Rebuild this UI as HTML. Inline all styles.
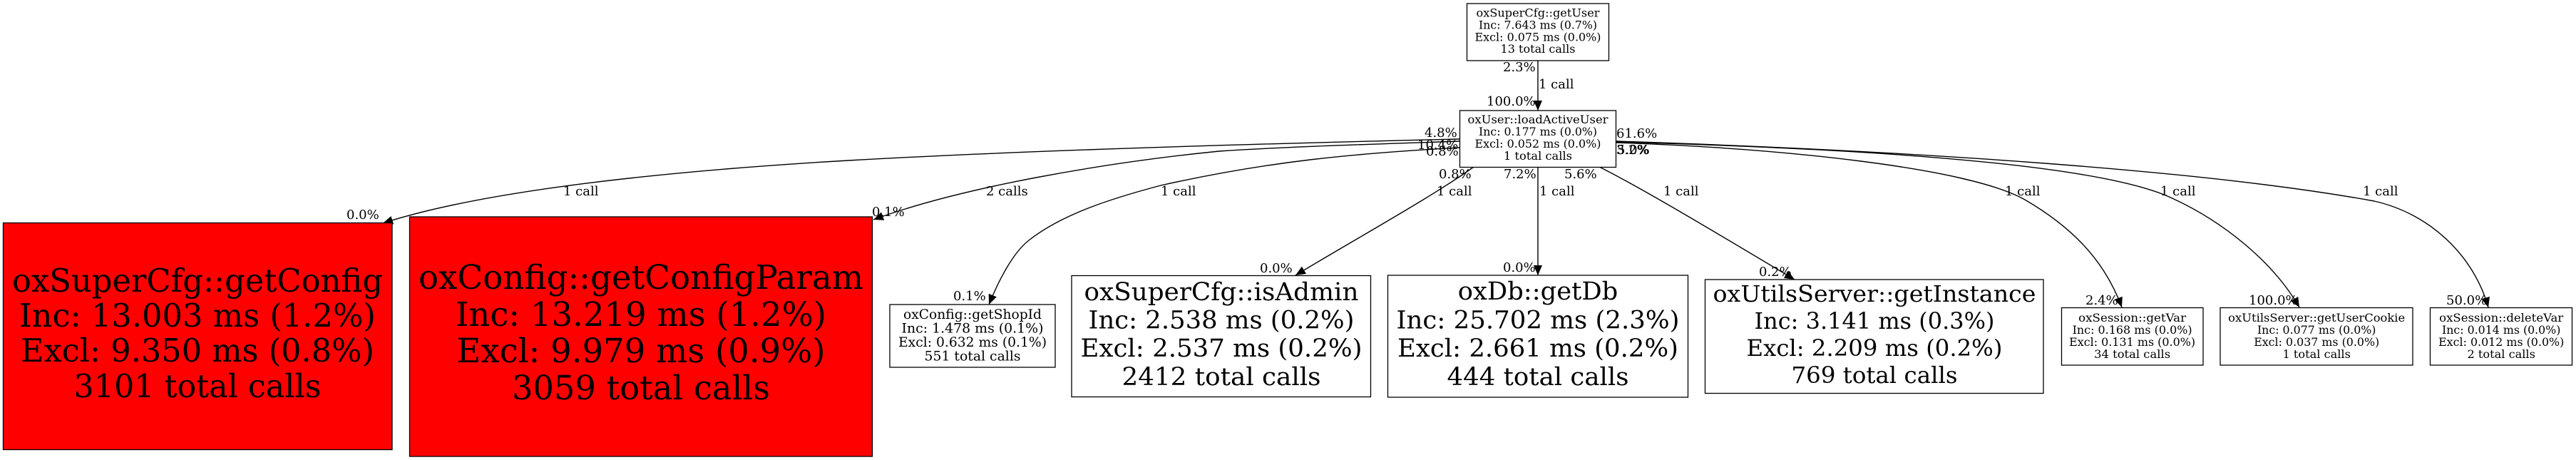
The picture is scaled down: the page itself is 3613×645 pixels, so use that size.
<!DOCTYPE html>
<html><head><meta charset="utf-8"><style>
html,body{margin:0;padding:0;background:#fff;}
svg{display:block;}
text{font-family:"DejaVu Serif","Liberation Serif",serif;fill:#000;}
.n{text-anchor:middle;}
</style></head><body>
<svg width="3613" height="645" viewBox="0 0 3613 645" xmlns="http://www.w3.org/2000/svg">
<defs>
<marker id="ah" markerUnits="userSpaceOnUse" markerWidth="14" markerHeight="12" viewBox="0 0 14 12" refX="14" refY="6" orient="auto">
<path d="M0,0 L14,6 L0,12 z" fill="#000"/>
</marker>
</defs>
<rect width="3613" height="645" fill="#fff"/>

<g fill="none" stroke="#000" stroke-width="1.4" marker-end="url(#ah)">
<path d="M2157,85 L2157,155"/>
<path d="M2048,195 C1700,203 1400,213 1190,225 C1000,236 700,260 537,313"/>
<path d="M2048,198 C1900,203 1800,206 1710,212 C1550,228 1350,262 1225,308"/>
<path d="M2048,207 C1900,215 1780,226 1628,260 C1560,278 1490,300 1443,337 C1420,355 1400,395 1387,427"/>
<path d="M2067,234 C2010,275 1910,330 1817,386"/>
<path d="M2157,234 L2157,386"/>
<path d="M2243,234 C2300,262 2430,340 2517,392"/>
<path d="M2267,200 C2500,208 2760,235 2840,280 C2900,315 2950,360 2976,431"/>
<path d="M2267,199 C2600,208 2930,228 3040,275 C3120,310 3190,370 3225,431"/>
<path d="M2267,198 C2700,212 3100,240 3330,282 C3410,300 3470,360 3490,431"/>
</g>

<g stroke="#000" stroke-width="1.3">
<rect x="2057.5" y="5" width="199" height="80" fill="#fff"/>
<rect x="2047.5" y="155" width="219" height="79.5" fill="#fff"/>
<rect x="4.5" y="312.5" width="545.5" height="318" fill="#ff0000"/>
<rect x="574.5" y="304" width="649" height="336" fill="#ff0000"/>
<rect x="1248" y="427" width="232" height="88" fill="#fff"/>
<rect x="1503" y="386.5" width="419.5" height="170" fill="#fff"/>
<rect x="1946.5" y="386" width="421" height="171" fill="#fff"/>
<rect x="2391.5" y="392" width="474.5" height="159.5" fill="#fff"/>
<rect x="2891.5" y="431.5" width="198.5" height="80.5" fill="#fff"/>
<rect x="3114" y="431.5" width="270" height="80.5" fill="#fff"/>
<rect x="3408.5" y="431.5" width="199" height="80.5" fill="#fff"/>
</g>

<!-- getUser -->
<g class="n" font-size="15.8">
<text x="2157" y="23.5" textLength="173" lengthAdjust="spacingAndGlyphs">oxSuperCfg::getUser</text>
<text x="2157" y="40.4" textLength="166" lengthAdjust="spacingAndGlyphs">Inc: 7.643 ms (0.7%)</text>
<text x="2157" y="57.3" textLength="177" lengthAdjust="spacingAndGlyphs">Excl: 0.075 ms (0.0%)</text>
<text x="2157" y="74.2" textLength="105" lengthAdjust="spacingAndGlyphs">13 total calls</text>
</g>
<!-- loadActiveUser -->
<g class="n" font-size="15.8">
<text x="2157" y="173" textLength="197" lengthAdjust="spacingAndGlyphs">oxUser::loadActiveUser</text>
<text x="2157" y="190" textLength="166" lengthAdjust="spacingAndGlyphs">Inc: 0.177 ms (0.0%)</text>
<text x="2157" y="207" textLength="177" lengthAdjust="spacingAndGlyphs">Excl: 0.052 ms (0.0%)</text>
<text x="2157" y="224" textLength="96" lengthAdjust="spacingAndGlyphs">1 total calls</text>
</g>
<!-- box1 -->
<g class="n" font-size="45">
<text x="277" y="409" textLength="520" lengthAdjust="spacingAndGlyphs">oxSuperCfg::getConfig</text>
<text x="277" y="458" textLength="500" lengthAdjust="spacingAndGlyphs">Inc: 13.003 ms (1.2%)</text>
<text x="277" y="507" textLength="496" lengthAdjust="spacingAndGlyphs">Excl: 9.350 ms (0.8%)</text>
<text x="277" y="557" textLength="347" lengthAdjust="spacingAndGlyphs">3101 total calls</text>
</g>
<!-- box2 -->
<g class="n" font-size="47">
<text x="899" y="405" textLength="624" lengthAdjust="spacingAndGlyphs">oxConfig::getConfigParam</text>
<text x="899" y="457" textLength="520" lengthAdjust="spacingAndGlyphs">Inc: 13.219 ms (1.2%)</text>
<text x="899" y="508" textLength="517" lengthAdjust="spacingAndGlyphs">Excl: 9.979 ms (0.9%)</text>
<text x="899" y="560" textLength="362" lengthAdjust="spacingAndGlyphs">3059 total calls</text>
</g>
<!-- getShopId -->
<g class="n" font-size="18.8">
<text x="1364" y="447" textLength="194" lengthAdjust="spacingAndGlyphs">oxConfig::getShopId</text>
<text x="1364" y="466.5" textLength="199" lengthAdjust="spacingAndGlyphs">Inc: 1.478 ms (0.1%)</text>
<text x="1364" y="486" textLength="208" lengthAdjust="spacingAndGlyphs">Excl: 0.632 ms (0.1%)</text>
<text x="1364" y="505.5" textLength="135" lengthAdjust="spacingAndGlyphs">551 total calls</text>
</g>
<!-- isAdmin -->
<g class="n" font-size="35">
<text x="1713" y="421" textLength="385" lengthAdjust="spacingAndGlyphs">oxSuperCfg::isAdmin</text>
<text x="1713" y="460.7" textLength="373" lengthAdjust="spacingAndGlyphs">Inc: 2.538 ms (0.2%)</text>
<text x="1713" y="500" textLength="395" lengthAdjust="spacingAndGlyphs">Excl: 2.537 ms (0.2%)</text>
<text x="1713" y="540" textLength="279" lengthAdjust="spacingAndGlyphs">2412 total calls</text>
</g>
<!-- getDb -->
<g class="n" font-size="35">
<text x="2157" y="420" textLength="224.5" lengthAdjust="spacingAndGlyphs">oxDb::getDb</text>
<text x="2157" y="460.7" textLength="397" lengthAdjust="spacingAndGlyphs">Inc: 25.702 ms (2.3%)</text>
<text x="2157" y="500" textLength="394" lengthAdjust="spacingAndGlyphs">Excl: 2.661 ms (0.2%)</text>
<text x="2157" y="540" textLength="255" lengthAdjust="spacingAndGlyphs">444 total calls</text>
</g>
<!-- getInstance -->
<g class="n" font-size="32">
<text x="2629" y="423" textLength="453" lengthAdjust="spacingAndGlyphs">oxUtilsServer::getInstance</text>
<text x="2629" y="461" textLength="337" lengthAdjust="spacingAndGlyphs">Inc: 3.141 ms (0.3%)</text>
<text x="2629" y="499" textLength="359" lengthAdjust="spacingAndGlyphs">Excl: 2.209 ms (0.2%)</text>
<text x="2629" y="537" textLength="233" lengthAdjust="spacingAndGlyphs">769 total calls</text>
</g>
<!-- getVar -->
<g class="n" font-size="15.8">
<text x="2990.6" y="451" textLength="151" lengthAdjust="spacingAndGlyphs">oxSession::getVar</text>
<text x="2990.6" y="468" textLength="168" lengthAdjust="spacingAndGlyphs">Inc: 0.168 ms (0.0%)</text>
<text x="2990.6" y="485" textLength="177" lengthAdjust="spacingAndGlyphs">Excl: 0.131 ms (0.0%)</text>
<text x="2990.6" y="502" textLength="107" lengthAdjust="spacingAndGlyphs">34 total calls</text>
</g>
<!-- getUserCookie -->
<g class="n" font-size="15.8">
<text x="3249.2" y="451" textLength="248" lengthAdjust="spacingAndGlyphs">oxUtilsServer::getUserCookie</text>
<text x="3249.2" y="468" textLength="166.5" lengthAdjust="spacingAndGlyphs">Inc: 0.077 ms (0.0%)</text>
<text x="3249.2" y="485" textLength="176" lengthAdjust="spacingAndGlyphs">Excl: 0.037 ms (0.0%)</text>
<text x="3249.2" y="502" textLength="95.4" lengthAdjust="spacingAndGlyphs">1 total calls</text>
</g>
<!-- deleteVar -->
<g class="n" font-size="15.8">
<text x="3508.2" y="451" textLength="174" lengthAdjust="spacingAndGlyphs">oxSession::deleteVar</text>
<text x="3508.2" y="468" textLength="166.4" lengthAdjust="spacingAndGlyphs">Inc: 0.014 ms (0.0%)</text>
<text x="3508.2" y="485" textLength="176.2" lengthAdjust="spacingAndGlyphs">Excl: 0.012 ms (0.0%)</text>
<text x="3508.2" y="502" textLength="95.4" lengthAdjust="spacingAndGlyphs">2 total calls</text>
</g>

<!-- edge labels -->
<g font-size="18">
<text x="2108" y="100">2.3%</text>
<text x="2158" y="124">1 call</text>
<text x="2085" y="148">100.0%</text>
<text x="1998" y="192">4.8%</text>
<text x="1988" y="209">10.4%</text>
<text x="2000" y="218">0.8%</text>
<text x="2267" y="193">61.6%</text>
<text x="2267" y="216">3.2%</text>
<text x="2268" y="216">5.0%</text>
<text x="2018" y="250">0.8%</text>
<text x="2109" y="250">7.2%</text>
<text x="2194" y="250">5.6%</text>

<text x="790" y="274">1 call</text>
<text x="1383" y="274">2 calls</text>
<text x="1628" y="274">1 call</text>
<text x="2015" y="274">1 call</text>
<text x="2159" y="274">1 call</text>
<text x="2333" y="274">1 call</text>
<text x="2812" y="274">1 call</text>
<text x="3030" y="274">1 call</text>
<text x="3314" y="274">1 call</text>

<text x="486" y="307">0.0%</text>
<text x="1223" y="303">0.1%</text>
<text x="1337" y="421">0.1%</text>
<text x="1767" y="382">0.0%</text>
<text x="2108" y="381">0.0%</text>
<text x="2467" y="387">0.2%</text>
<text x="2925" y="427">2.4%</text>
<text x="3154" y="427">100.0%</text>
<text x="3431" y="427">50.0%</text>
</g>
</svg>
</body></html>
